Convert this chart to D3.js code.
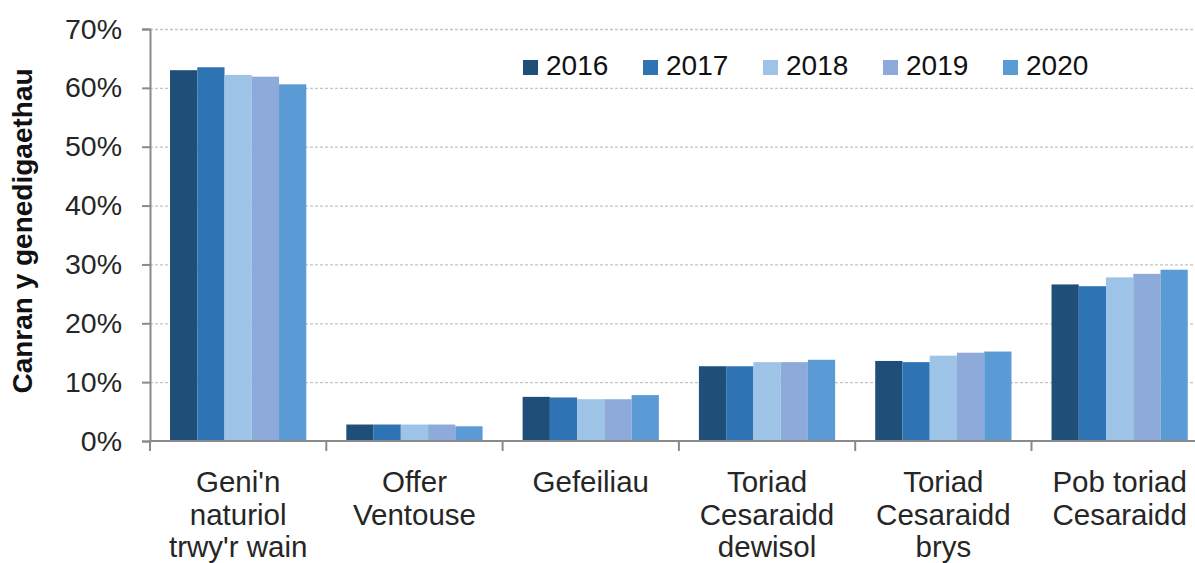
<!DOCTYPE html>
<html>
<head>
<meta charset="utf-8">
<script src="https://cdn.jsdelivr.net/npm/d3@7"></script>
<style>
  html, body { margin: 0; padding: 0; background: #fff; }
  svg { display: block; font-family: "Liberation Sans", Arial, sans-serif; }
</style>
</head>
<body>
<div id="chart"></div>
<script>
// Births by method of delivery, 2016-2020 (percent of births)
const categories = [
  ["Geni'n", "naturiol", "trwy'r wain"],
  ["Offer", "Ventouse"],
  ["Gefeiliau"],
  ["Toriad", "Cesaraidd", "dewisol"],
  ["Toriad", "Cesaraidd", "brys"],
  ["Pob toriad", "Cesaraidd"]
];
const years = ["2016", "2017", "2018", "2019", "2020"];
const colors = ["#1f4e79", "#2e74b5", "#9dc3e6", "#8eaadb", "#5b9bd5"];

// values per category, one per year
const v2016 = [63.0, 2.8, 7.5, 12.7, 13.6, 26.6];
const v2017 = [63.5, 2.8, 7.4, 12.7, 13.4, 26.3];
const v2018 = [62.2, 2.8, 7.1, 13.4, 14.5, 27.8];
const v2019 = [61.9, 2.8, 7.1, 13.4, 15.0, 28.4];
const v2020 = [60.6, 2.5, 7.8, 13.8, 15.2, 29.1];
const series = [v2016, v2017, v2018, v2019, v2020];

const yTicks = [0, 10, 20, 30, 40, 50, 60, 70];

const W = 1195, H = 563;
const margin = {left: 150, top: 29, bottom: 122};
const bandW = 176.3;
const plotBottom = H - margin.bottom;

const svg = d3.select('#chart').append('svg')
  .attr('width', W)
  .attr('height', H);

const catIdx = categories.map((c, i) => i);

const x0 = d3.scaleBand()
  .domain(catIdx)
  .range([margin.left, margin.left + bandW * categories.length])
  .padding(0);

const x1 = d3.scaleBand()
  .domain(years)
  .range([0, x0.bandwidth()])
  .paddingInner(0)
  .paddingOuter(0.735);

const y = d3.scaleLinear()
  .domain([0, 70])
  .range([plotBottom, margin.top]);

// gridlines
const grid = svg.append('g')
  .attr('transform', `translate(${margin.left},0)`)
  .call(d3.axisLeft(y).tickValues(yTicks.slice(1)).tickSize(-(W - margin.left)).tickFormat(''));
grid.select('.domain').remove();
grid.selectAll('line')
  .attr('stroke', '#c4c4c4')
  .attr('stroke-width', 1.3)
  .attr('stroke-dasharray', '3,2');

// bars
const groups = svg.append('g')
  .selectAll('g')
  .data(catIdx)
  .join('g')
  .attr('transform', d => `translate(${x0(d)},0)`);

groups.selectAll('rect')
  .data(ci => years.map((yr, si) => ({yr, si, v: series[si][ci]})))
  .join('rect')
  .attr('x', d => x1(d.yr))
  .attr('width', x1.bandwidth())
  .attr('y', d => y(d.v))
  .attr('height', d => y(0) - y(d.v))
  .attr('fill', d => colors[d.si]);

// y axis
const yAxis = svg.append('g')
  .attr('transform', `translate(${margin.left},0)`)
  .call(d3.axisLeft(y).tickValues(yTicks).tickSize(8).tickPadding(20).tickFormat(d => d + '%'));
yAxis.select('.domain').attr('stroke', '#8a8a8a').attr('stroke-width', 2);
yAxis.selectAll('.tick line').attr('stroke', '#8a8a8a').attr('stroke-width', 2);
yAxis.selectAll('.tick text')
  .attr('font-size', 28.5)
  .attr('fill', '#262626')
  .attr('font-family', '"Liberation Sans", Arial, sans-serif');

// x axis line + boundary ticks
const xAxis = svg.append('g')
  .attr('transform', `translate(0,${plotBottom})`)
  .call(d3.axisBottom(x0).tickSize(0).tickFormat(''));
xAxis.select('.domain').remove();
xAxis.append('line')
  .attr('x1', margin.left).attr('x2', W)
  .attr('stroke', '#8a8a8a').attr('stroke-width', 2);
const bounds = catIdx.map(i => x0(i)).concat([x0(catIdx.length - 1) + x0.bandwidth()]);
xAxis.selectAll('.bound')
  .data(bounds)
  .join('line')
  .attr('class', 'bound')
  .attr('x1', d => d).attr('x2', d => d)
  .attr('y1', 0).attr('y2', 10)
  .attr('stroke', '#8a8a8a').attr('stroke-width', 2);

// category labels (multi-line)
xAxis.selectAll('.tick text').remove();
const lbl = svg.append('g')
  .selectAll('text')
  .data(catIdx)
  .join('text')
  .attr('text-anchor', 'middle')
  .attr('font-size', 29.5)
  .attr('fill', '#262626')
  .attr('transform', d => `translate(${x0(d) + x0.bandwidth() / 2},${plotBottom + 51})`);
lbl.selectAll('tspan')
  .data(d => categories[d])
  .join('tspan')
  .attr('x', 0)
  .attr('y', (d, i) => i * 32.5)
  .text(d => d);

// y title
svg.append('text')
  .attr('transform', `translate(32,${(margin.top + plotBottom) / 2 - 4}) rotate(-90)`)
  .attr('text-anchor', 'middle')
  .attr('font-size', 28)
  .attr('font-weight', 'bold')
  .attr('fill', '#111')
  .text('Canran y genedigaethau');

// legend
const legend = svg.append('g')
  .attr('transform', 'translate(523,0)');
const item = legend.selectAll('g')
  .data(years)
  .join('g')
  .attr('transform', (d, i) => `translate(${i * 120},0)`);
item.append('rect')
  .attr('x', 0).attr('y', 60)
  .attr('width', 15).attr('height', 15)
  .attr('fill', (d, i) => colors[i]);
item.append('text')
  .attr('x', 23).attr('y', 75)
  .attr('font-size', 28)
  .attr('fill', '#111')
  .text(d => d);
</script>
</body>
</html>
